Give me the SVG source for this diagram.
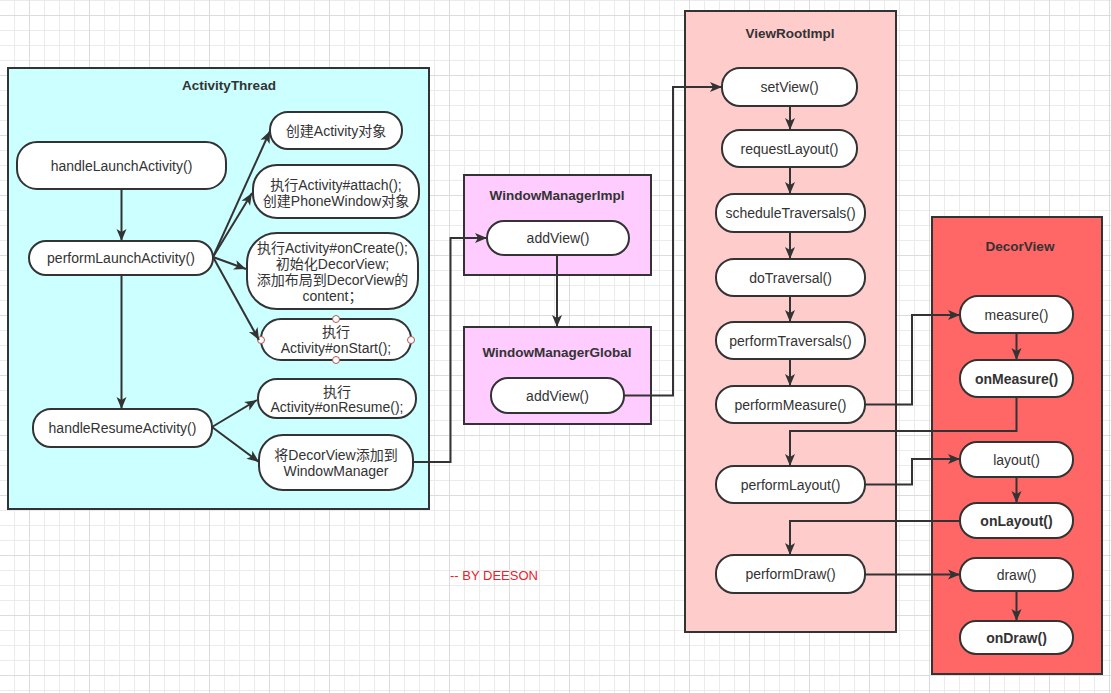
<svg xmlns="http://www.w3.org/2000/svg" width="1111" height="693" viewBox="0 0 1111 693">
<defs>
<pattern id="grid" patternUnits="userSpaceOnUse" x="29" y="15" width="60" height="60">
<path d="M15.5,0V60M30.5,0V60M45.5,0V60M0,15.5H60M0,30.5H60M0,45.5H60" stroke="#ebebeb" stroke-width="1" fill="none"/>
<path d="M0.5,0V60M0,0.5H60" stroke="#dcdcdc" stroke-width="1" fill="none"/>
</pattern>
<marker id="arr" markerUnits="userSpaceOnUse" markerWidth="13" markerHeight="10" refX="12" refY="5" orient="auto" overflow="visible">
<path d="M0,0 L12,5 L0,10 L3,5 z" fill="#333"/>
</marker>
<style>
.cont{stroke:#333;stroke-width:2}
.n{fill:#fff;stroke:#333;stroke-width:2}
.t{font-family:"Liberation Sans","Noto Sans CJK SC",sans-serif;font-size:14px;fill:#333;text-anchor:middle;dominant-baseline:central}
.b{font-weight:bold}
.ti{font-size:13.5px}
.e{fill:none;stroke:#333;stroke-width:2}
.h{fill:#fff;stroke:#b85450;stroke-width:1}
</style>
</defs>
<rect width="1111" height="693" fill="#fff"/>
<rect width="1111" height="693" fill="url(#grid)"/>

<g id="ActivityThread">
<rect class="cont" x="8" y="68" width="421" height="441" fill="#ccffff"/>
<text class="t b ti" x="229" y="85">ActivityThread</text>
</g>
<g id="WindowManagerImpl">
<rect class="cont" x="464" y="175" width="187" height="100" fill="#ffccff"/>
<text class="t b ti" x="557" y="195">WindowManagerImpl</text>
</g>
<g id="WindowManagerGlobal">
<rect class="cont" x="464" y="327" width="187" height="97" fill="#ffccff"/>
<text class="t b ti" x="557" y="352">WindowManagerGlobal</text>
</g>
<g id="ViewRootImpl">
<rect class="cont" x="685" y="11" width="211" height="621" fill="#ffcccc"/>
<text class="t b ti" x="790" y="33">ViewRootImpl</text>
</g>
<g id="DecorView">
<rect class="cont" x="932" y="217" width="170" height="457" fill="#ff6666"/>
<text class="t b ti" x="1020" y="246">DecorView</text>
</g>

<g id="handleLaunchActivity">
<rect class="n" x="17" y="142" width="209" height="47" rx="20"/>
<text class="t" x="121.5" y="166">handleLaunchActivity()</text>
</g>
<g id="performLaunchActivity">
<rect class="n" x="29" y="241" width="184" height="34" rx="17"/>
<text class="t" x="121" y="258">performLaunchActivity()</text>
</g>
<g id="handleResumeActivity">
<rect class="n" x="33" y="409" width="179" height="38" rx="18"/>
<text class="t" x="122.5" y="428">handleResumeActivity()</text>
</g>
<g id="createActivity">
<rect class="n" x="270" y="112" width="132" height="37" rx="18"/>
<text class="t" x="336" y="131">创建Activity对象</text>
</g>
<g id="attach">
<rect class="n" x="253" y="165" width="166" height="53" rx="24"/>
<text class="t" x="336" y="184.5">执行Activity#attach();</text>
<text class="t" x="336" y="200.5">创建PhoneWindow对象</text>
</g>
<g id="onCreate">
<rect class="n" x="247" y="233" width="171" height="76" rx="30"/>
<text class="t" x="332.5" y="248">执行Activity#onCreate();</text>
<text class="t" x="332.5" y="263.5">初始化DecorView;</text>
<text class="t" x="332.5" y="279.5">添加布局到DecorView的</text>
<text class="t" x="332.5" y="295.5">content；</text>
</g>
<g id="onStart">
<rect class="n" x="261" y="319" width="150" height="41" rx="20"/>
<text class="t" x="336" y="332">执行</text>
<text class="t" x="336" y="348">Activity#onStart();</text>
<circle class="h" cx="336" cy="319" r="3.5"/>
<circle class="h" cx="336" cy="360" r="3.5"/>
<circle class="h" cx="261" cy="340" r="3.5"/>
<circle class="h" cx="411" cy="340" r="3.5"/>
</g>
<g id="onResume">
<rect class="n" x="258" y="379" width="158" height="39" rx="19"/>
<text class="t" x="337" y="391.5">执行</text>
<text class="t" x="337" y="407">Activity#onResume();</text>
</g>
<g id="addToWM">
<rect class="n" x="259" y="435" width="154" height="55" rx="24"/>
<text class="t" x="336" y="455">将DecorView添加到</text>
<text class="t" x="336" y="471">WindowManager</text>
</g>
<g id="wmiAddView">
<rect class="n" x="487" y="221" width="142" height="34" rx="17"/>
<text class="t" x="558" y="238">addView()</text>
</g>
<g id="wmgAddView">
<rect class="n" x="491" y="378" width="133" height="35" rx="17"/>
<text class="t" x="557.5" y="396">addView()</text>
</g>
<g id="setView">
<rect class="n" x="722" y="68" width="135" height="38" rx="18"/>
<text class="t" x="789.5" y="87">setView()</text>
</g>
<g id="requestLayout">
<rect class="n" x="722" y="130" width="135" height="37" rx="18"/>
<text class="t" x="789.5" y="149">requestLayout()</text>
</g>
<g id="scheduleTraversals">
<rect class="n" x="716" y="194" width="149" height="38" rx="18"/>
<text class="t" x="790.5" y="213">scheduleTraversals()</text>
</g>
<g id="doTraversal">
<rect class="n" x="716" y="259" width="149" height="37" rx="18"/>
<text class="t" x="790.5" y="277.5">doTraversal()</text>
</g>
<g id="performTraversals">
<rect class="n" x="716" y="322" width="149" height="37" rx="18"/>
<text class="t" x="790.5" y="340.5">performTraversals()</text>
</g>
<g id="performMeasure">
<rect class="n" x="716" y="386" width="149" height="37" rx="18"/>
<text class="t" x="790.5" y="404.5">performMeasure()</text>
</g>
<g id="performLayout">
<rect class="n" x="716" y="466" width="149" height="37" rx="18"/>
<text class="t" x="790.5" y="484.5">performLayout()</text>
</g>
<g id="performDraw">
<rect class="n" x="716" y="555" width="149" height="38" rx="18"/>
<text class="t" x="790.5" y="574">performDraw()</text>
</g>
<g id="measure">
<rect class="n" x="960" y="296" width="113" height="37" rx="18"/>
<text class="t" x="1016.5" y="315">measure()</text>
</g>
<g id="onMeasure">
<rect class="n" x="960" y="360" width="113" height="37" rx="18"/>
<text class="t b" x="1016.5" y="379">onMeasure()</text>
</g>
<g id="layout">
<rect class="n" x="960" y="442" width="113" height="35" rx="17"/>
<text class="t" x="1016.5" y="460">layout()</text>
</g>
<g id="onLayout">
<rect class="n" x="960" y="503" width="113" height="35" rx="17"/>
<text class="t b" x="1016.5" y="521">onLayout()</text>
</g>
<g id="draw">
<rect class="n" x="960" y="558" width="113" height="33" rx="16"/>
<text class="t" x="1016.5" y="575">draw()</text>
</g>
<g id="onDraw">
<rect class="n" x="960" y="621" width="113" height="33" rx="16"/>
<text class="t b" x="1016.5" y="638">onDraw()</text>
</g>

<g id="connectors">
<path class="e" d="M121.5,189V241" marker-end="url(#arr)"/>
<path class="e" d="M121.5,275V409" marker-end="url(#arr)"/>
<path class="e" d="M213,257L270,131" marker-end="url(#arr)"/>
<path class="e" d="M213,257L252,193" marker-end="url(#arr)"/>
<path class="e" d="M213,257L246,269" marker-end="url(#arr)"/>
<path class="e" d="M213,257L259,340" marker-end="url(#arr)"/>
<path class="e" d="M212,427L257,400" marker-end="url(#arr)"/>
<path class="e" d="M212,427L259,462" marker-end="url(#arr)"/>
<path class="e" d="M413,462H450.5V238H487" marker-end="url(#arr)"/>
<path class="e" d="M557,255V327" marker-end="url(#arr)"/>
<path class="e" d="M624,395.5H673V87H722" marker-end="url(#arr)"/>
<path class="e" d="M790,106V130" marker-end="url(#arr)"/>
<path class="e" d="M790,167V194" marker-end="url(#arr)"/>
<path class="e" d="M790,232V259" marker-end="url(#arr)"/>
<path class="e" d="M790,296V322" marker-end="url(#arr)"/>
<path class="e" d="M790,359V386" marker-end="url(#arr)"/>
<path class="e" d="M865,404.5H912V315H960" marker-end="url(#arr)"/>
<path class="e" d="M1016.5,333V360" marker-end="url(#arr)"/>
<path class="e" d="M1016.5,397V431H790V466" marker-end="url(#arr)"/>
<path class="e" d="M865,484.5H912V459H960" marker-end="url(#arr)"/>
<path class="e" d="M1016.5,477V503" marker-end="url(#arr)"/>
<path class="e" d="M960,521H790V555" marker-end="url(#arr)"/>
<path class="e" d="M865,574.5H960" marker-end="url(#arr)"/>
<path class="e" d="M1016.5,591V621" marker-end="url(#arr)"/>
</g>

<text x="450" y="580" font-family="'Liberation Sans','Noto Sans',sans-serif" font-size="13" fill="#e8202a">-- BY DEESON</text>
</svg>
